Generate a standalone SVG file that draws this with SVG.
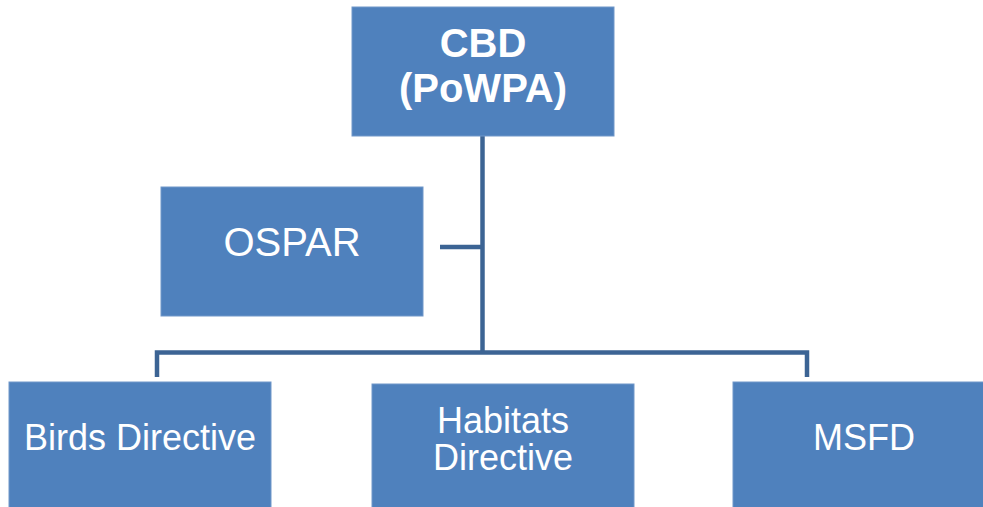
<svg xmlns="http://www.w3.org/2000/svg" width="983" height="507" viewBox="0 0 983 507">
<style>
.box{fill:#4F81BD;stroke:#7097C9;stroke-width:1}
.t{fill:#FFFFFF;font-family:"Liberation Sans",Arial,sans-serif;text-anchor:middle}
.b{font-weight:bold;font-size:40px}
.r40{font-size:40px}
.r36{font-size:36px}
.c{fill:none;stroke:#3C6494;stroke-width:4.5}
</style>
<rect width="983" height="507" fill="#FFFFFF"/>
<g id="connectors">
<path class="c" d="M482.5,136 V352"/>
<path class="c" d="M440,247 H482.5"/>
<path class="c" d="M157,377 V352.5 H807 V377"/>
</g>
<g id="cbd">
<rect class="box" x="352" y="7" width="262" height="129"/>
<text class="t b" x="483" y="57">CBD</text>
<text class="t b" x="483" y="102">(PoWPA)</text>
</g>
<g id="ospar">
<rect class="box" x="161" y="187" width="262" height="129"/>
<text class="t r40" x="292" y="256">OSPAR</text>
</g>
<g id="birds">
<rect class="box" x="9" y="382" width="262" height="129"/>
<text class="t r36" x="140" y="450">Birds Directive</text>
</g>
<g id="habitats">
<rect class="box" x="372" y="384" width="262" height="129"/>
<text class="t r36" x="503" y="433">Habitats</text>
<text class="t r36" x="503" y="470">Directive</text>
</g>
<g id="msfd">
<rect class="box" x="733" y="382" width="262" height="129"/>
<text class="t r36" x="864" y="450">MSFD</text>
</g>
</svg>
